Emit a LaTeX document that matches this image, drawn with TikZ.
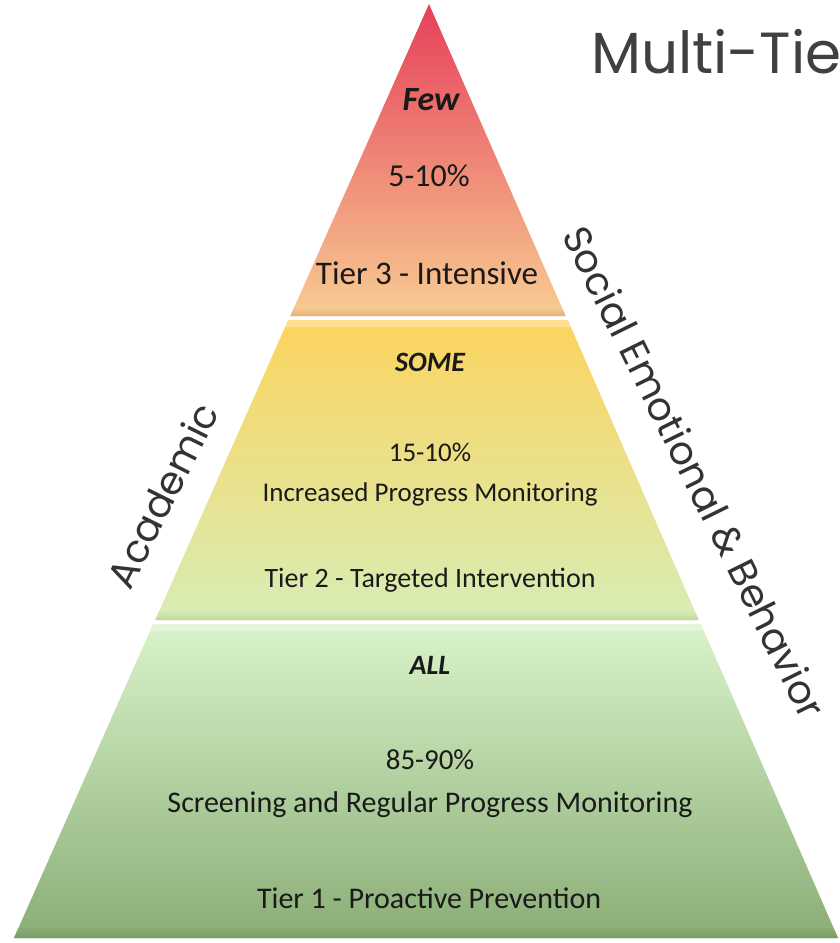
\documentclass[tikz,border=0pt]{standalone}
\usepackage{fontspec}
\setmainfont{Carlito}
\newfontfamily\labelfont{Poppins}
\definecolor{tthreetop}{HTML}{E6405A}
\definecolor{tthreemid}{HTML}{EE8F7A}
\definecolor{tthreebot}{HTML}{F8CC92}
\definecolor{tthreeedge}{HTML}{E6B07C}
\definecolor{ttwotop}{HTML}{FCD45E}
\definecolor{ttwomid}{HTML}{F6E38E}
\definecolor{ttwobot}{HTML}{D8EDB6}
\definecolor{ttwoedge}{HTML}{BFD8A0}
\definecolor{tonetop}{HTML}{DAF3CA}
\definecolor{tonemid}{HTML}{A9CA92}
\definecolor{tonebot}{HTML}{8AAD76}
\definecolor{toneedge}{HTML}{7A9C68}
\definecolor{inktext}{HTML}{1A1A1A}
\definecolor{titlegray}{HTML}{404040}
\definecolor{sidegray}{HTML}{333333}
\tikzset{
  tiertext/.style={text=inktext, inner sep=1pt},
  sidelabel/.style={text=sidegray, inner sep=1pt, font=\labelfont\fontsize{39}{46}\selectfont},
}
\begin{document}
\begin{tikzpicture}[x=1pt,y=-1pt]
\useasboundingbox (0,0) rectangle (839,943);
\clip (0,0) rectangle (839,943);
% Tier 3
\path[shade, top color=tthreetop, middle color=tthreemid, bottom color=tthreebot]
  (429,4) -- (565.6,316) -- (290.4,316) -- cycle;
\path[shade, top color=tthreebot, bottom color=tthreeedge]
  (561.2,306) -- (565.6,316) -- (290.4,316) -- (294.8,306) -- cycle;
% Tier 2
\path[shade, top color=ttwotop, middle color=ttwomid, bottom color=ttwobot]
  (288.2,320) -- (567.8,320) -- (698.7,620) -- (155.3,620) -- cycle;
\path[fill=white, opacity=0.3]
  (288.2,320) -- (567.8,320) -- (571.3,327) -- (284.6,327) -- cycle;
\path[shade, top color=ttwobot, bottom color=ttwoedge]
  (694.3,610) -- (698.7,620) -- (155.3,620) -- (159.7,610) -- cycle;
% Tier 1
\path[shade, top color=tonetop, middle color=tonemid, bottom color=tonebot]
  (153.1,624) -- (700.9,624) -- (838,938) -- (14,938) -- cycle;
\path[fill=white, opacity=0.3]
  (153.1,624) -- (700.9,624) -- (704.4,631) -- (149.6,631) -- cycle;
\path[shade, top color=tonebot, bottom color=toneedge]
  (833.6,928) -- (838,938) -- (14,938) -- (18.4,928) -- cycle;
% Tier texts
\node[tiertext, font=\fontsize{34}{40}\selectfont\bfseries\itshape] (few) at (431,100) {Few};
\node[tiertext, font=\fontsize{32}{38}\selectfont] (pctthree) at (429,176) {5-10\%};
\node[tiertext, font=\fontsize{33}{39}\selectfont] (tierthree) at (427,273) {Tier 3 - Intensive};
\node[tiertext, font=\fontsize{28}{34}\selectfont\bfseries\itshape] (some) at (430,362) {SOME};
\node[tiertext, font=\fontsize{27}{33}\selectfont] (pcttwo) at (430,452) {15-10\%};
\node[tiertext, font=\fontsize{27}{33}\selectfont] (monitortwo) at (430,494) {Increased Progress Monitoring};
\node[tiertext, font=\fontsize{28}{34}\selectfont] (tiertwo) at (430,580) {Tier 2 - Targeted Intervention};
\node[tiertext, font=\fontsize{28}{34}\selectfont\bfseries\itshape] (all) at (430,665) {ALL};
\node[tiertext, font=\fontsize{29}{35}\selectfont] (pctone) at (430,760) {85-90\%};
\node[tiertext, font=\fontsize{30}{36}\selectfont] (monitorone) at (430,805) {Screening and Regular Progress Monitoring};
\node[tiertext, font=\fontsize{30}{36}\selectfont] (tierone) at (429,898) {Tier 1 - Proactive Prevention};
% Side labels
\node[sidelabel, rotate=63.4] (academic) at (162,495) {Academic};
\node[sidelabel, rotate=-63.7] (social) at (695,472) {Social Emotional \& Behavior};
% Title (cut by the right edge)
\node[anchor=base west, inner sep=0pt, text=titlegray, font=\labelfont\fontsize{58}{68}\selectfont] (title) at (591,73) {Multi-Tie};
\end{tikzpicture}
\end{document}
